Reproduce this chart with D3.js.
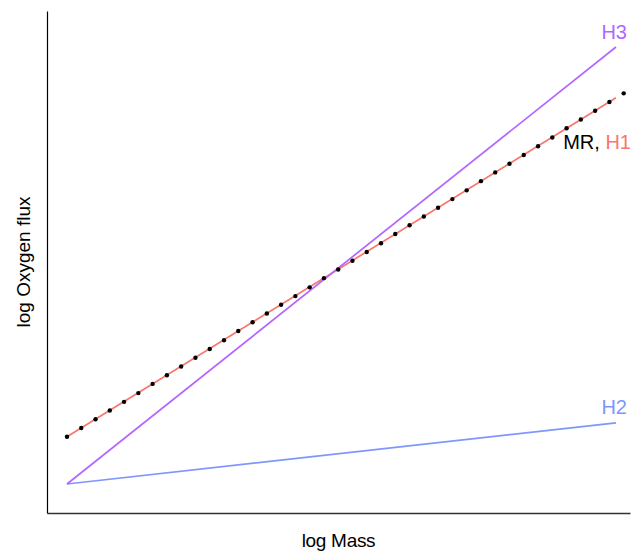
<!DOCTYPE html>
<html>
<head>
<meta charset="utf-8">
<script src="https://cdn.jsdelivr.net/npm/d3@7"></script>
<style>
  body { margin: 0; background: #fff; }
  text { font-family: "Liberation Sans", Arial, sans-serif; }
</style>
</head>
<body>
<div id="chart"></div>
<script>
// log Mass values of the MR points
var mrMass = [0, 0.26, 0.52, 0.78, 1.04, 1.30, 1.56, 1.82, 2.08, 2.34,
    2.60, 2.86, 3.12, 3.38, 3.64, 3.90, 4.16, 4.42, 4.68, 4.94,
    5.20, 5.46, 5.72, 5.98, 6.24, 6.50, 6.76, 7.02, 7.28, 7.54,
    7.80, 8.06, 8.32, 8.58, 8.84, 9.10, 9.36, 9.62, 9.88, 10.14];
// log Oxygen flux of the MR points
var mrFlux = [1.08, 1.28, 1.48, 1.68, 1.88, 2.08, 2.29, 2.49, 2.69, 2.89,
    3.09, 3.29, 3.50, 3.70, 3.90, 4.10, 4.30, 4.50, 4.71, 4.91,
    5.11, 5.31, 5.51, 5.72, 5.92, 6.12, 6.32, 6.52, 6.72, 6.93,
    7.13, 7.33, 7.53, 7.73, 7.93, 8.14, 8.34, 8.54, 8.74, 8.94];

// hypothesis lines: start and end
var hypNames = ["H1", "H2", "H3"];
var hypMass = [[0, 10], [0, 10], [0, 10]];
var hypFlux = [[1.08, 8.84], [0, 1.40], [0, 10]];
var hypColors = ["#f8766d", "#7f96ff", "#b266ff"];

var width = 640, height = 553;

var x = d3.scaleLinear().domain([-0.364, 10.255]).range([47, 630]);
var y = d3.scaleLinear().domain([-0.664, 10.824]).range([513, 11]);

var svg = d3.select("#chart").append("svg")
    .attr("width", width)
    .attr("height", height);

// axes, no ticks
svg.append("g")
    .attr("transform", "translate(0," + y.range()[0] + ")")
    .call(d3.axisBottom(x).tickValues([]).tickSizeOuter(0))
    .select(".domain").attr("stroke", "#333").attr("stroke-width", 1.6);

svg.append("g")
    .attr("transform", "translate(" + x.range()[0] + ",0)")
    .call(d3.axisLeft(y).tickValues([]).tickSizeOuter(0))
    .select(".domain").attr("stroke", "#000").attr("stroke-width", 1.2);

var line = d3.line()
    .x(d => x(d[0]))
    .y(d => y(d[1]));

hypNames.forEach((name, i) => {
    svg.append("path")
        .attr("d", line(d3.zip(hypMass[i], hypFlux[i])))
        .attr("fill", "none")
        .attr("stroke", hypColors[i])
        .attr("stroke-width", 1.7);
});

// MR points
svg.selectAll(".dot")
    .data(d3.zip(mrMass, mrFlux))
    .enter().append("circle")
    .attr("class", "dot")
    .attr("cx", d => x(d[0]))
    .attr("cy", d => y(d[1]))
    .attr("r", 2.2)
    .attr("fill", "#000");

// labels
svg.append("text")
    .attr("x", 627).attr("y", 39)
    .attr("text-anchor", "end")
    .style("font-size", "20px")
    .attr("fill", hypColors[2])
    .text("H3");

svg.append("text")
    .attr("x", 627).attr("y", 414)
    .attr("text-anchor", "end")
    .style("font-size", "20px")
    .attr("fill", hypColors[1])
    .text("H2");

var mr = svg.append("text")
    .attr("x", 631).attr("y", 149)
    .attr("text-anchor", "end")
    .style("font-size", "20px");
mr.append("tspan").attr("fill", "#000").text("MR, ");
mr.append("tspan").attr("fill", hypColors[0]).text("H1");

svg.append("text")
    .attr("x", (x.range()[0] + x.range()[1]) / 2)
    .attr("y", 547)
    .attr("text-anchor", "middle")
    .style("font-size", "19px")
    .style("letter-spacing", "-0.3px")
    .text("log Mass");

svg.append("text")
    .attr("transform", "translate(30," + ((y.range()[0] + y.range()[1]) / 2) + ") rotate(-90)")
    .attr("text-anchor", "middle")
    .style("font-size", "19px")
    .text("log Oxygen flux");
</script>
</body>
</html>
